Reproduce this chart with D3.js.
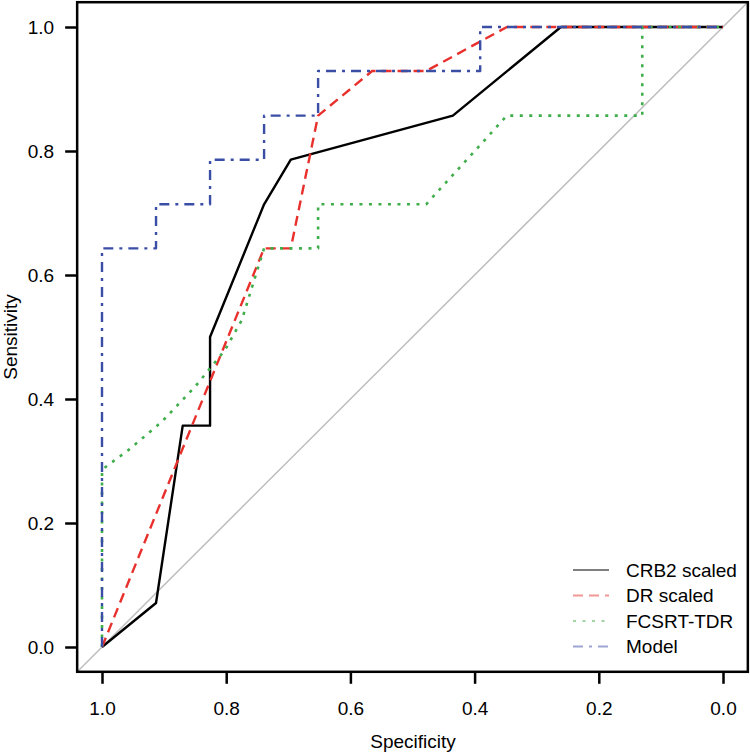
<!DOCTYPE html>
<html>
<head>
<meta charset="utf-8">
<script src="https://cdn.jsdelivr.net/npm/d3@7"></script>
<style>
  html, body { margin: 0; padding: 0; background: #fff; }
  text { font-family: "Liberation Sans", Arial, Helvetica, sans-serif; fill: #000; }
</style>
</head>
<body>
<svg id="chart" width="750" height="754"></svg>
<script>
// ---- data ----
const seriesNames = ["CRB2 scaled", "DR scaled", "FCSRT-TDR", "Model"];

const crbSpec = [1, 0.913, 0.870, 0.826, 0.826, 0.739, 0.696, 0.435, 0.261, 0];
const crbSens = [0, 0.071, 0.357, 0.357, 0.500, 0.714, 0.786, 0.857, 1, 1];

const drSpec = [1, 0.739, 0.696, 0.652, 0.565, 0.478, 0.348, 0];
const drSens = [0, 0.643, 0.643, 0.857, 0.929, 0.929, 1, 1];

const fcSpec = [1, 1, 0.957, 0.904, 0.850, 0.802, 0.775, 0.739, 0.652, 0.652, 0.478, 0.348, 0.130, 0.130, 0];
const fcSens = [0, 0.286, 0.318, 0.363, 0.420, 0.479, 0.527, 0.643, 0.643, 0.714, 0.714, 0.857, 0.857, 1, 1];

const modelSpec = [1, 1, 0.913, 0.913, 0.826, 0.826, 0.739, 0.739, 0.652, 0.652, 0.391, 0.391, 0];
const modelSens = [0, 0.643, 0.643, 0.714, 0.714, 0.786, 0.786, 0.857, 0.857, 0.929, 0.929, 1, 1];

const xTicks = [1.0, 0.8, 0.6, 0.4, 0.2, 0.0];
const yTicks = [0.0, 0.2, 0.4, 0.6, 0.8, 1.0];

// ---- layout ----
const svg = d3.select("#chart");
const x = d3.scaleLinear().domain([1, 0]).range([102, 723]);
const y = d3.scaleLinear().domain([0, 1]).range([647, 27]);
const xExt = [1.04, -0.04], yExt = [-0.04, 1.04];
const boxL = x(xExt[0]), boxR = x(xExt[1]), boxT = y(yExt[1]), boxB = y(yExt[0]);

const styles = [
  { color: "#000000", dash: null, width: 2.4 },
  { color: "#e8302c", dash: "10,6", width: 2.4 },
  { color: "#3fae4a", dash: "3,6.5", width: 2.6 },
  { color: "#3b4ea6", dash: "10,6,3,6", width: 2.4 }
];
const series = [
  [crbSpec, crbSens], [drSpec, drSens], [fcSpec, fcSens], [modelSpec, modelSens]
];

svg.append("defs").append("clipPath").attr("id", "clip")
  .append("rect").attr("x", boxL).attr("y", boxT).attr("width", boxR - boxL).attr("height", boxB - boxT);

// diagonal
svg.append("line")
  .attr("clip-path", "url(#clip)")
  .attr("x1", x(xExt[0])).attr("y1", y(yExt[0]))
  .attr("x2", x(xExt[1])).attr("y2", y(yExt[1]))
  .attr("stroke", "#bdbdbd").attr("stroke-width", 1.5);

const line = d3.line().x(d => x(d[0])).y(d => y(d[1]));
series.forEach((s, i) => {
  const pts = s[0].map((v, j) => [v, s[1][j]]);
  svg.append("path")
    .datum(pts)
    .attr("d", line)
    .attr("fill", "none")
    .attr("stroke", styles[i].color)
    .attr("stroke-width", styles[i].width)
    .attr("stroke-dasharray", styles[i].dash)
    .attr("stroke-linejoin", "round");
});

// box
svg.append("rect")
  .attr("x", boxL).attr("y", boxT).attr("width", boxR - boxL).attr("height", boxB - boxT)
  .attr("fill", "none").attr("stroke", "#000").attr("stroke-width", 2.5);

// axes
const xAxis = svg.append("g").attr("transform", `translate(0,${boxB})`)
  .call(d3.axisBottom(x).tickValues(xTicks).tickFormat(d3.format(".1f")).tickSize(12).tickPadding(18));
const yAxis = svg.append("g").attr("transform", `translate(${boxL},0)`)
  .call(d3.axisLeft(y).tickValues(yTicks).tickFormat(d3.format(".1f")).tickSize(12).tickPadding(11));
[xAxis, yAxis].forEach(g => {
  g.select(".domain").remove();
  g.selectAll(".tick line").attr("stroke", "#000").attr("stroke-width", 2.5);
  g.selectAll(".tick text").style("font-size", "19px").attr("fill", "#000")
    .style("font-family", '"Liberation Sans", Arial, sans-serif');
});

// axis titles
svg.append("text").attr("x", 413).attr("y", 748).attr("text-anchor", "middle")
  .style("font-size", "19px").text("Specificity");
svg.append("text").attr("transform", "translate(17,337) rotate(-90)").attr("text-anchor", "middle")
  .style("font-size", "19px").text("Sensitivity");

// legend
const legY = [570, 595.5, 621, 646.5];
seriesNames.forEach((name, i) => {
  svg.append("line")
    .attr("x1", 573).attr("x2", 609).attr("y1", legY[i]).attr("y2", legY[i])
    .attr("stroke", styles[i].color).attr("stroke-opacity", 0.5)
    .attr("stroke-width", 2)
    .attr("stroke-dasharray", styles[i].dash);
  svg.append("text").attr("x", 626).attr("y", legY[i] + 6.5)
    .style("font-size", "19px").text(name);
});
</script>
</body>
</html>
